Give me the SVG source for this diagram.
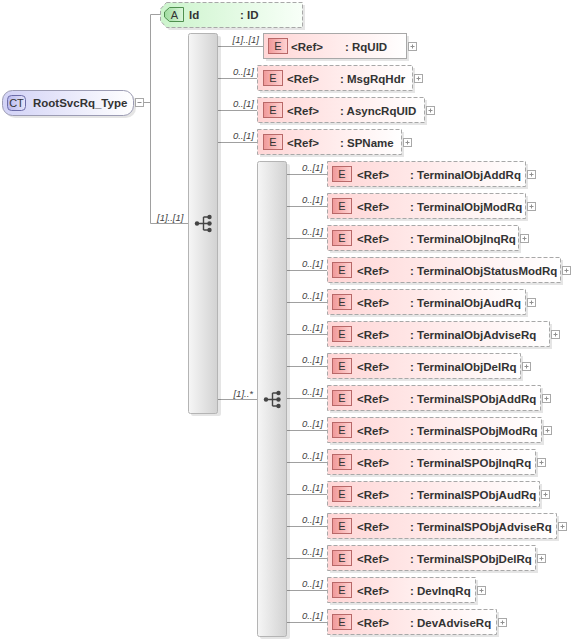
<svg xmlns="http://www.w3.org/2000/svg" width="572" height="642" viewBox="0 0 572 642">
<defs>
<linearGradient id="gEl" x1="0" y1="0" x2="1" y2="0"><stop offset="0" stop-color="#ffd6d6"/><stop offset="1" stop-color="#ffffff"/></linearGradient>
<linearGradient id="gE" x1="0" y1="0" x2="1" y2="0"><stop offset="0" stop-color="#f09898"/><stop offset="1" stop-color="#ffd4d4"/></linearGradient>
<linearGradient id="gAt" x1="0" y1="0" x2="1" y2="0"><stop offset="0" stop-color="#ccf4cc"/><stop offset="1" stop-color="#f8fff8"/></linearGradient>
<linearGradient id="gA" x1="0" y1="0" x2="1" y2="0"><stop offset="0" stop-color="#9edc9e"/><stop offset="1" stop-color="#dcf6dc"/></linearGradient>
<linearGradient id="gCT" x1="0" y1="0" x2="1" y2="0"><stop offset="0" stop-color="#d2d2f6"/><stop offset="1" stop-color="#ffffff"/></linearGradient>
<linearGradient id="gCTb" x1="0" y1="0" x2="1" y2="0"><stop offset="0" stop-color="#b8b8ee"/><stop offset="1" stop-color="#e4e4fa"/></linearGradient>
<linearGradient id="gBar" x1="0" y1="0" x2="1" y2="0"><stop offset="0" stop-color="#f6f6f6"/><stop offset="1" stop-color="#d2d2d2"/></linearGradient>
</defs>
<style>
.ln{stroke:#a0a0a0;stroke-width:1;fill:none}
.sh{fill:#000;opacity:0.10}
.el{fill:url(#gEl);stroke:#a8a8a8;stroke-width:1}
.opt{stroke-dasharray:4 2}
.eb{fill:url(#gE);stroke:#b86868;stroke-width:1}
.bar{fill:url(#gBar);stroke:#b4b4b4;stroke-width:1}
.t{font-family:"Liberation Sans",Arial,sans-serif;font-size:11.5px;font-weight:bold;fill:#333}
.bt{font-family:"Liberation Sans",Arial,sans-serif;font-size:11px;fill:#333}
.lb{font-family:"Liberation Sans",Arial,sans-serif;font-size:9.5px;font-style:italic;fill:#444}
.pb{fill:#fff;stroke:#a8a8a8;stroke-width:1}
.ps{stroke:#909090;stroke-width:1}
.ic{fill:#444}
.icl{stroke:#444;stroke-width:1.4;fill:none}
</style>

<g id="connectors">
<line class="ln" x1="143" y1="102.5" x2="150.5" y2="102.5"/>
<line class="ln" x1="150.5" y1="14.5" x2="150.5" y2="223.5"/>
<line class="ln" x1="150.5" y1="14.5" x2="160" y2="14.5"/>
<line class="ln" x1="150.5" y1="223.5" x2="188" y2="223.5"/>
<text class="lb" x="157" y="221">[1]..[1]</text>
<line class="ln" x1="218" y1="46.5" x2="263" y2="46.5"/>
<text class="lb" x="259" y="43" text-anchor="end">[1]..[1]</text>
<line class="ln" x1="218" y1="78.5" x2="257" y2="78.5"/>
<text class="lb" x="254" y="75" text-anchor="end">0..[1]</text>
<line class="ln" x1="218" y1="110.5" x2="257" y2="110.5"/>
<text class="lb" x="254" y="107" text-anchor="end">0..[1]</text>
<line class="ln" x1="218" y1="142.5" x2="257" y2="142.5"/>
<text class="lb" x="254" y="139" text-anchor="end">0..[1]</text>
<line class="ln" x1="218" y1="399.5" x2="257" y2="399.5"/>
<text class="lb" x="253" y="397" text-anchor="end">[1]..*</text>
<g id="c2">
<line class="ln" x1="287" y1="174.5" x2="327" y2="174.5"/><text class="lb" x="323" y="171" text-anchor="end">0..[1]</text>
<line class="ln" x1="287" y1="206.5" x2="327" y2="206.5"/><text class="lb" x="323" y="203" text-anchor="end">0..[1]</text>
<line class="ln" x1="287" y1="238.5" x2="327" y2="238.5"/><text class="lb" x="323" y="235" text-anchor="end">0..[1]</text>
<line class="ln" x1="287" y1="270.5" x2="327" y2="270.5"/><text class="lb" x="323" y="267" text-anchor="end">0..[1]</text>
<line class="ln" x1="287" y1="302.5" x2="327" y2="302.5"/><text class="lb" x="323" y="299" text-anchor="end">0..[1]</text>
<line class="ln" x1="287" y1="334.5" x2="327" y2="334.5"/><text class="lb" x="323" y="331" text-anchor="end">0..[1]</text>
<line class="ln" x1="287" y1="366.5" x2="327" y2="366.5"/><text class="lb" x="323" y="363" text-anchor="end">0..[1]</text>
<line class="ln" x1="287" y1="398.5" x2="327" y2="398.5"/><text class="lb" x="323" y="395" text-anchor="end">0..[1]</text>
<line class="ln" x1="287" y1="430.5" x2="327" y2="430.5"/><text class="lb" x="323" y="427" text-anchor="end">0..[1]</text>
<line class="ln" x1="287" y1="462.5" x2="327" y2="462.5"/><text class="lb" x="323" y="459" text-anchor="end">0..[1]</text>
<line class="ln" x1="287" y1="494.5" x2="327" y2="494.5"/><text class="lb" x="323" y="491" text-anchor="end">0..[1]</text>
<line class="ln" x1="287" y1="526.5" x2="327" y2="526.5"/><text class="lb" x="323" y="523" text-anchor="end">0..[1]</text>
<line class="ln" x1="287" y1="558.5" x2="327" y2="558.5"/><text class="lb" x="323" y="555" text-anchor="end">0..[1]</text>
<line class="ln" x1="287" y1="590.5" x2="327" y2="590.5"/><text class="lb" x="323" y="587" text-anchor="end">0..[1]</text>
<line class="ln" x1="287" y1="622.5" x2="327" y2="622.5"/><text class="lb" x="323" y="619" text-anchor="end">0..[1]</text>
</g>
</g>

<g id="root">
<rect class="sh" x="5" y="93" width="131" height="25" rx="10"/>
<rect x="2.5" y="90.5" width="131" height="25" rx="10" fill="url(#gCT)" stroke="#9c9cb4"/>
<rect x="7.5" y="95.5" width="18" height="15" rx="4" fill="url(#gCTb)" stroke="#6c6ca8"/>
<text class="bt" x="16.5" y="107" text-anchor="middle">CT</text>
<text class="t" x="33" y="107">RootSvcRq_Type</text>
<rect class="pb" x="135.5" y="98.5" width="8" height="8"/>
<line class="ps" x1="137.5" y1="102.5" x2="141.5" y2="102.5"/>
</g>

<g id="attr-Id">
<path class="sh" d="M169 5 H305 V30 H169 L163 23 V12 Z"/>
<path d="M166.5 2.5 H302.5 V27.5 H166.5 L160.5 21 V9 Z" fill="url(#gAt)" stroke="#a8a8a8" stroke-dasharray="4 2"/>
<path d="M169.5 7.5 H183.5 V21.5 H169.5 L164.5 17 V12 Z" fill="url(#gA)" stroke="#4f8f4f"/>
<text class="bt" x="174.5" y="19" text-anchor="middle">A</text>
<text class="t" x="189" y="18.5">Id</text>
<text class="t" x="240" y="18.5">: ID</text>
</g>

<g id="seq1">
<rect class="sh" x="191" y="36" width="30" height="380" rx="2"/>
<rect class="bar" x="188.5" y="33.5" width="29" height="380" rx="2"/>
<circle class="ic" cx="197" cy="223.5" r="2.2"/>
<path class="icl" d="M197 223.5 H203.5 M203.5 217 V230 M203.5 217 H209.5 M203.5 223.5 H209.5 M203.5 230 H209.5"/>
<circle class="ic" cx="209.5" cy="217" r="2.2"/>
<circle class="ic" cx="209.5" cy="223.5" r="2.2"/>
<circle class="ic" cx="209.5" cy="230" r="2.2"/>
</g>

<g id="choice2">
<rect class="sh" x="260" y="164" width="30" height="475" rx="2"/>
<rect class="bar" x="257.5" y="161.5" width="29" height="475" rx="2"/>
<circle class="ic" cx="266" cy="399.5" r="2.2"/>
<path class="icl" d="M266 399.5 H272.5 M272.5 393 V406 M272.5 393 H278.5 M272.5 399.5 H278.5 M272.5 406 H278.5"/>
<circle class="ic" cx="278.5" cy="393" r="2.2"/>
<circle class="ic" cx="278.5" cy="399.5" r="2.2"/>
<circle class="ic" cx="278.5" cy="406" r="2.2"/>
</g>

<g id="el-RqUID">
<rect class="sh" x="266" y="36" width="143" height="25"/>
<rect class="el" x="263.5" y="33.5" width="143" height="25"/>
<rect class="eb" x="268.5" y="38.5" width="19" height="15"/>
<text class="bt" x="278" y="50" text-anchor="middle">E</text>
<text class="t" x="291" y="50.5">&lt;Ref&gt;</text>
<text class="t" x="345" y="50.5">: RqUID</text>
<rect class="pb" x="408.5" y="42.5" width="8" height="8"/><path class="ps" d="M410.5 46.5 H414.5 M412.5 44.5 V48.5"/>
</g>

<g id="el-MsgRqHdr">
<rect class="sh" x="260" y="68" width="155" height="25"/>
<rect class="el opt" x="257.5" y="65.5" width="155" height="25"/>
<rect class="eb" x="263.5" y="70.5" width="19" height="15"/>
<text class="bt" x="273" y="82" text-anchor="middle">E</text>
<text class="t" x="287" y="82.5">&lt;Ref&gt;</text>
<text class="t" x="340" y="82.5">: MsgRqHdr</text>
<rect class="pb" x="414.5" y="74.5" width="8" height="8"/><path class="ps" d="M416.5 78.5 H420.5 M418.5 76.5 V80.5"/>
</g>

<g id="el-AsyncRqUID">
<rect class="sh" x="260" y="100" width="167" height="25"/>
<rect class="el opt" x="257.5" y="97.5" width="167" height="25"/>
<rect class="eb" x="263.5" y="102.5" width="19" height="15"/>
<text class="bt" x="273" y="114" text-anchor="middle">E</text>
<text class="t" x="287" y="114.5">&lt;Ref&gt;</text>
<text class="t" x="340" y="114.5">: AsyncRqUID</text>
<rect class="pb" x="426.5" y="106.5" width="8" height="8"/><path class="ps" d="M428.5 110.5 H432.5 M430.5 108.5 V112.5"/>
</g>

<g id="el-SPName">
<rect class="sh" x="260" y="132" width="144" height="25"/>
<rect class="el opt" x="257.5" y="129.5" width="144" height="25"/>
<rect class="eb" x="263.5" y="134.5" width="19" height="15"/>
<text class="bt" x="273" y="146" text-anchor="middle">E</text>
<text class="t" x="287" y="146.5">&lt;Ref&gt;</text>
<text class="t" x="340" y="146.5">: SPName</text>
<rect class="pb" x="403.5" y="138.5" width="8" height="8"/><path class="ps" d="M405.5 142.5 H409.5 M407.5 140.5 V144.5"/>
</g>

<g id="el-TerminalObjAddRq">
<rect class="sh" x="330" y="164" width="198" height="25"/>
<rect class="el opt" x="327.5" y="161.5" width="198" height="25"/>
<rect class="eb" x="332.5" y="166.5" width="19" height="15"/>
<text class="bt" x="342" y="178" text-anchor="middle">E</text>
<text class="t" x="357" y="178.5">&lt;Ref&gt;</text>
<text class="t" x="410" y="178.5">: TerminalObjAddRq</text>
<rect class="pb" x="527.5" y="170.5" width="8" height="8"/><path class="ps" d="M529.5 174.5 H533.5 M531.5 172.5 V176.5"/>
</g>

<g id="el-TerminalObjModRq">
<rect class="sh" x="330" y="196" width="198" height="25"/>
<rect class="el opt" x="327.5" y="193.5" width="198" height="25"/>
<rect class="eb" x="332.5" y="198.5" width="19" height="15"/>
<text class="bt" x="342" y="210" text-anchor="middle">E</text>
<text class="t" x="357" y="210.5">&lt;Ref&gt;</text>
<text class="t" x="410" y="210.5">: TerminalObjModRq</text>
<rect class="pb" x="527.5" y="202.5" width="8" height="8"/><path class="ps" d="M529.5 206.5 H533.5 M531.5 204.5 V208.5"/>
</g>

<g id="el-TerminalObjInqRq">
<rect class="sh" x="330" y="228" width="191" height="25"/>
<rect class="el opt" x="327.5" y="225.5" width="191" height="25"/>
<rect class="eb" x="332.5" y="230.5" width="19" height="15"/>
<text class="bt" x="342" y="242" text-anchor="middle">E</text>
<text class="t" x="357" y="242.5">&lt;Ref&gt;</text>
<text class="t" x="410" y="242.5">: TerminalObjInqRq</text>
<rect class="pb" x="520.5" y="234.5" width="8" height="8"/><path class="ps" d="M522.5 238.5 H526.5 M524.5 236.5 V240.5"/>
</g>

<g id="el-TerminalObjStatusModRq">
<rect class="sh" x="330" y="260" width="233" height="25"/>
<rect class="el opt" x="327.5" y="257.5" width="233" height="25"/>
<rect class="eb" x="332.5" y="262.5" width="19" height="15"/>
<text class="bt" x="342" y="274" text-anchor="middle">E</text>
<text class="t" x="357" y="274.5">&lt;Ref&gt;</text>
<text class="t" x="410" y="274.5">: TerminalObjStatusModRq</text>
<rect class="pb" x="562.5" y="266.5" width="8" height="8"/><path class="ps" d="M564.5 270.5 H568.5 M566.5 268.5 V272.5"/>
</g>

<g id="el-TerminalObjAudRq">
<rect class="sh" x="330" y="292" width="198" height="25"/>
<rect class="el opt" x="327.5" y="289.5" width="198" height="25"/>
<rect class="eb" x="332.5" y="294.5" width="19" height="15"/>
<text class="bt" x="342" y="306" text-anchor="middle">E</text>
<text class="t" x="357" y="306.5">&lt;Ref&gt;</text>
<text class="t" x="410" y="306.5">: TerminalObjAudRq</text>
<rect class="pb" x="527.5" y="298.5" width="8" height="8"/><path class="ps" d="M529.5 302.5 H533.5 M531.5 300.5 V304.5"/>
</g>

<g id="el-TerminalObjAdviseRq">
<rect class="sh" x="330" y="324" width="222" height="25"/>
<rect class="el opt" x="327.5" y="321.5" width="222" height="25"/>
<rect class="eb" x="332.5" y="326.5" width="19" height="15"/>
<text class="bt" x="342" y="338" text-anchor="middle">E</text>
<text class="t" x="357" y="338.5">&lt;Ref&gt;</text>
<text class="t" x="410" y="338.5">: TerminalObjAdviseRq</text>
<rect class="pb" x="551.5" y="330.5" width="8" height="8"/><path class="ps" d="M553.5 334.5 H557.5 M555.5 332.5 V336.5"/>
</g>

<g id="el-TerminalObjDelRq">
<rect class="sh" x="330" y="356" width="193" height="25"/>
<rect class="el opt" x="327.5" y="353.5" width="193" height="25"/>
<rect class="eb" x="332.5" y="358.5" width="19" height="15"/>
<text class="bt" x="342" y="370" text-anchor="middle">E</text>
<text class="t" x="357" y="370.5">&lt;Ref&gt;</text>
<text class="t" x="410" y="370.5">: TerminalObjDelRq</text>
<rect class="pb" x="522.5" y="362.5" width="8" height="8"/><path class="ps" d="M524.5 366.5 H528.5 M526.5 364.5 V368.5"/>
</g>

<g id="el-TerminalSPObjAddRq">
<rect class="sh" x="330" y="388" width="213" height="25"/>
<rect class="el opt" x="327.5" y="385.5" width="213" height="25"/>
<rect class="eb" x="332.5" y="390.5" width="19" height="15"/>
<text class="bt" x="342" y="402" text-anchor="middle">E</text>
<text class="t" x="357" y="402.5">&lt;Ref&gt;</text>
<text class="t" x="410" y="402.5">: TerminalSPObjAddRq</text>
<rect class="pb" x="542.5" y="394.5" width="8" height="8"/><path class="ps" d="M544.5 398.5 H548.5 M546.5 396.5 V400.5"/>
</g>

<g id="el-TerminalSPObjModRq">
<rect class="sh" x="330" y="420" width="214" height="25"/>
<rect class="el opt" x="327.5" y="417.5" width="214" height="25"/>
<rect class="eb" x="332.5" y="422.5" width="19" height="15"/>
<text class="bt" x="342" y="434" text-anchor="middle">E</text>
<text class="t" x="357" y="434.5">&lt;Ref&gt;</text>
<text class="t" x="410" y="434.5">: TerminalSPObjModRq</text>
<rect class="pb" x="543.5" y="426.5" width="8" height="8"/><path class="ps" d="M545.5 430.5 H549.5 M547.5 428.5 V432.5"/>
</g>

<g id="el-TerminalSPObjInqRq">
<rect class="sh" x="330" y="452" width="208" height="25"/>
<rect class="el opt" x="327.5" y="449.5" width="208" height="25"/>
<rect class="eb" x="332.5" y="454.5" width="19" height="15"/>
<text class="bt" x="342" y="466" text-anchor="middle">E</text>
<text class="t" x="357" y="466.5">&lt;Ref&gt;</text>
<text class="t" x="410" y="466.5">: TerminalSPObjInqRq</text>
<rect class="pb" x="537.5" y="458.5" width="8" height="8"/><path class="ps" d="M539.5 462.5 H543.5 M541.5 460.5 V464.5"/>
</g>

<g id="el-TerminalSPObjAudRq">
<rect class="sh" x="330" y="484" width="212" height="25"/>
<rect class="el opt" x="327.5" y="481.5" width="212" height="25"/>
<rect class="eb" x="332.5" y="486.5" width="19" height="15"/>
<text class="bt" x="342" y="498" text-anchor="middle">E</text>
<text class="t" x="357" y="498.5">&lt;Ref&gt;</text>
<text class="t" x="410" y="498.5">: TerminalSPObjAudRq</text>
<rect class="pb" x="541.5" y="490.5" width="8" height="8"/><path class="ps" d="M543.5 494.5 H547.5 M545.5 492.5 V496.5"/>
</g>

<g id="el-TerminalSPObjAdviseRq">
<rect class="sh" x="330" y="516" width="229" height="25"/>
<rect class="el opt" x="327.5" y="513.5" width="229" height="25"/>
<rect class="eb" x="332.5" y="518.5" width="19" height="15"/>
<text class="bt" x="342" y="530" text-anchor="middle">E</text>
<text class="t" x="357" y="530.5">&lt;Ref&gt;</text>
<text class="t" x="410" y="530.5">: TerminalSPObjAdviseRq</text>
<rect class="pb" x="558.5" y="522.5" width="8" height="8"/><path class="ps" d="M560.5 526.5 H564.5 M562.5 524.5 V528.5"/>
</g>

<g id="el-TerminalSPObjDelRq">
<rect class="sh" x="330" y="548" width="208" height="25"/>
<rect class="el opt" x="327.5" y="545.5" width="208" height="25"/>
<rect class="eb" x="332.5" y="550.5" width="19" height="15"/>
<text class="bt" x="342" y="562" text-anchor="middle">E</text>
<text class="t" x="357" y="562.5">&lt;Ref&gt;</text>
<text class="t" x="410" y="562.5">: TerminalSPObjDelRq</text>
<rect class="pb" x="537.5" y="554.5" width="8" height="8"/><path class="ps" d="M539.5 558.5 H543.5 M541.5 556.5 V560.5"/>
</g>

<g id="el-DevInqRq">
<rect class="sh" x="330" y="580" width="148" height="25"/>
<rect class="el opt" x="327.5" y="577.5" width="148" height="25"/>
<rect class="eb" x="332.5" y="582.5" width="19" height="15"/>
<text class="bt" x="342" y="594" text-anchor="middle">E</text>
<text class="t" x="357" y="594.5">&lt;Ref&gt;</text>
<text class="t" x="410" y="594.5">: DevInqRq</text>
<rect class="pb" x="477.5" y="586.5" width="8" height="8"/><path class="ps" d="M479.5 590.5 H483.5 M481.5 588.5 V592.5"/>
</g>

<g id="el-DevAdviseRq">
<rect class="sh" x="330" y="612" width="169" height="25"/>
<rect class="el opt" x="327.5" y="609.5" width="169" height="25"/>
<rect class="eb" x="332.5" y="614.5" width="19" height="15"/>
<text class="bt" x="342" y="626" text-anchor="middle">E</text>
<text class="t" x="357" y="626.5">&lt;Ref&gt;</text>
<text class="t" x="410" y="626.5">: DevAdviseRq</text>
<rect class="pb" x="498.5" y="618.5" width="8" height="8"/><path class="ps" d="M500.5 622.5 H504.5 M502.5 620.5 V624.5"/>
</g>
</svg>
